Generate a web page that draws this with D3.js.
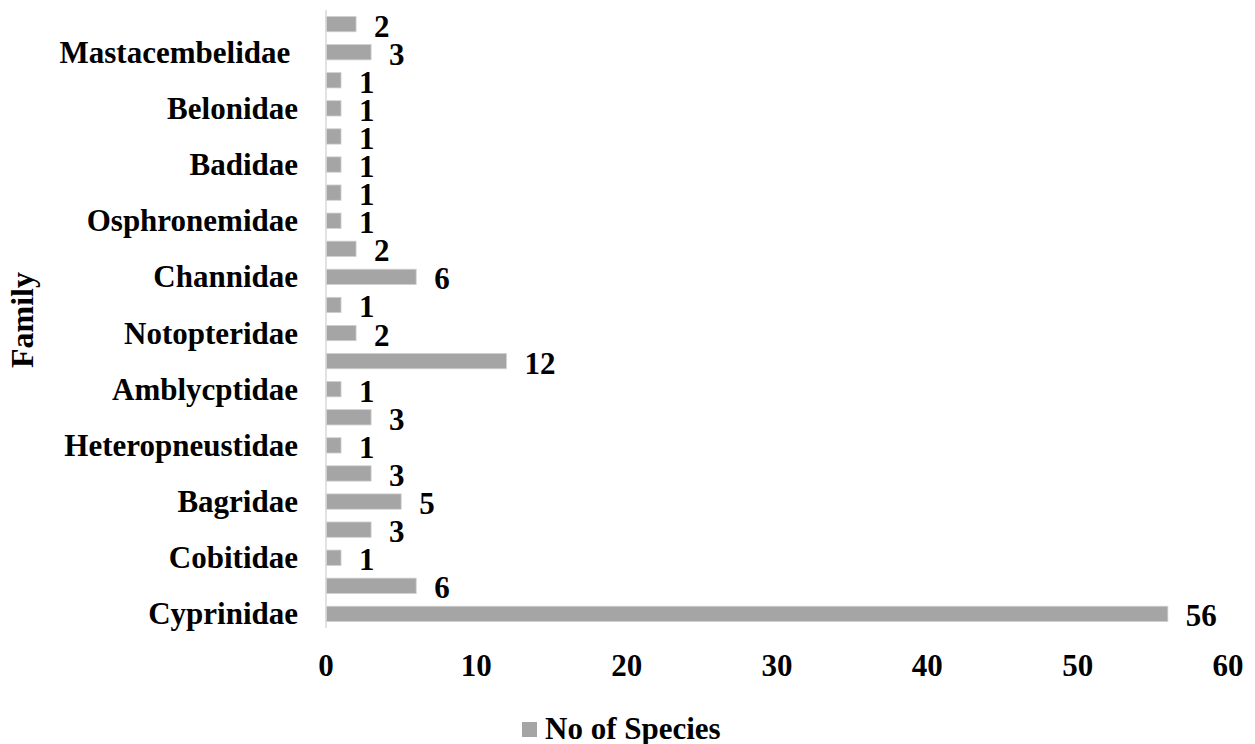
<!DOCTYPE html>
<html>
<head>
<meta charset="utf-8">
<script src="https://cdn.jsdelivr.net/npm/d3@7"></script>
<style>
  body { margin: 0; background: #fff; }
  text { font-family: "Liberation Serif", "Times New Roman", serif; font-weight: bold; fill: #000; }
</style>
</head>
<body>
<svg id="chart" width="1255" height="744"></svg>
<script>
// bottom to top, Excel only shows every other family name
const families = ["Cyprinidae", "", "Cobitidae", "", "Bagridae", "", "Heteropneustidae", "",
  "Amblycptidae", "", "Notopteridae", "", "Channidae", "", "Osphronemidae", "", "Badidae", "",
  "Belonidae", "", "Mastacembelidae ", ""];
const species = [56, 6, 1, 3, 5, 3, 1, 3, 1, 12, 2, 1, 6, 2, 1, 1, 1, 1, 1, 1, 3, 2];
const xTicks = [0, 10, 20, 30, 40, 50, 60];

const svg = d3.select("#chart");
const plotLeft = 326, plotRight = 1228, plotTop = 10, plotBottom = 628;
const fontSize = 31;

const x = d3.scaleLinear().domain([0, 60]).range([plotLeft, plotRight]);
const y = d3.scaleBand()
  .domain(d3.range(species.length))
  .range([plotBottom, plotTop])
  .paddingInner(0.455)
  .paddingOuter(0.23);

svg.append("g").selectAll("rect")
  .data(species)
  .enter().append("rect")
  .attr("x", x(0))
  .attr("y", (d, i) => y(i))
  .attr("width", d => x(d) - x(0))
  .attr("height", y.bandwidth())
  .attr("fill", "#a5a5a5")
  .attr("stroke", "#d0d0d0")
  .attr("stroke-width", 0.8);

// value labels
svg.append("g").selectAll("text")
  .data(species)
  .enter().append("text")
  .attr("font-size", fontSize)
  .attr("dy", "0.34em")
  .attr("x", d => x(d) + 18)
  .attr("y", (d, i) => y(i) + y.bandwidth() / 2 + 2)
  .text(d => d);

// y axis line
svg.append("line")
  .attr("x1", plotLeft).attr("x2", plotLeft)
  .attr("y1", plotTop).attr("y2", plotBottom)
  .attr("stroke", "#d9d9d9")
  .attr("stroke-width", 1.5);

// family names (keep the trailing space on Mastacembelidae)
svg.append("g").selectAll("text")
  .data(families)
  .enter().append("text")
  .attr("font-size", fontSize)
  .attr("text-anchor", "end")
  .attr("dy", "0.34em")
  .attr("x", 298)
  .attr("y", (d, i) => y(i) + y.bandwidth() / 2)
  .style("white-space", "pre")
  .text(d => d);

// x tick labels
svg.append("g").selectAll("text")
  .data(xTicks)
  .enter().append("text")
  .attr("font-size", fontSize)
  .attr("text-anchor", "middle")
  .attr("x", d => x(d))
  .attr("y", 676)
  .text(d => d);

// axis title
svg.append("text")
  .attr("font-size", 32)
  .attr("text-anchor", "middle")
  .attr("transform", "translate(33,320) rotate(-90)")
  .text("Family");

// legend
svg.append("rect")
  .attr("x", 522).attr("y", 722)
  .attr("width", 15).attr("height", 15)
  .attr("fill", "#a5a5a5");
svg.append("text")
  .attr("font-size", fontSize)
  .attr("x", 545)
  .attr("y", 739)
  .text("No of Species");
</script>
</body>
</html>
